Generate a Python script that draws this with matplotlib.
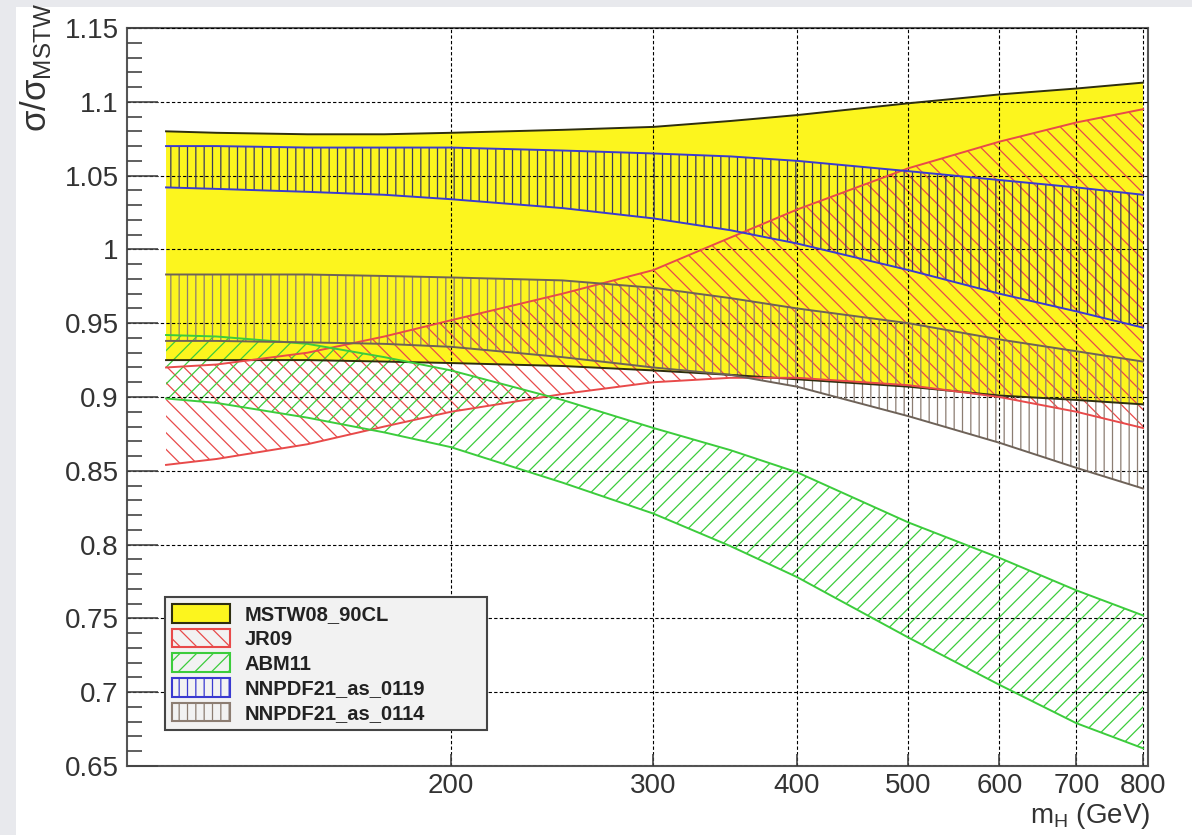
import matplotlib
matplotlib.use("Agg")
import matplotlib.pyplot as plt
from matplotlib.patches import Patch, Rectangle
from matplotlib.ticker import FixedLocator, MultipleLocator, FuncFormatter, NullLocator

plt.rcParams['font.family'] = ['Liberation Sans', 'DejaVu Sans']
plt.rcParams['mathtext.fontset'] = 'custom'
plt.rcParams['mathtext.rm'] = 'Liberation Sans'
plt.rcParams['mathtext.it'] = 'Liberation Sans:italic'
plt.rcParams['hatch.linewidth'] = 0.9

# Higgs mass points (GeV)
mh = [113, 125, 150, 175, 200, 250, 300, 350, 400, 500, 600, 700, 800]

# band edges, ratio to MSTW central value
mstw_up = [1.080, 1.079, 1.078, 1.078, 1.079, 1.081, 1.083, 1.087, 1.091, 1.099, 1.105, 1.109, 1.113]
mstw_lo = [0.925, 0.925, 0.925, 0.924, 0.923, 0.921, 0.918, 0.915, 0.912, 0.907, 0.901, 0.898, 0.895]

jr_up = [0.920, 0.922, 0.930, 0.941, 0.952, 0.970, 0.986, 1.008, 1.027, 1.055, 1.073, 1.086, 1.095]
jr_lo = [0.854, 0.858, 0.868, 0.880, 0.890, 0.902, 0.910, 0.913, 0.913, 0.908, 0.900, 0.890, 0.879]

abm_up = [0.942, 0.941, 0.936, 0.927, 0.918, 0.898, 0.879, 0.864, 0.849, 0.815, 0.791, 0.769, 0.752]
abm_lo = [0.899, 0.896, 0.886, 0.876, 0.866, 0.842, 0.821, 0.799, 0.778, 0.737, 0.705, 0.679, 0.662]

nn119_up = [1.070, 1.070, 1.069, 1.069, 1.069, 1.067, 1.065, 1.063, 1.060, 1.053, 1.047, 1.042, 1.037]
nn119_lo = [1.042, 1.041, 1.039, 1.037, 1.034, 1.028, 1.021, 1.013, 1.004, 0.986, 0.970, 0.958, 0.947]

nn114_up = [0.983, 0.983, 0.983, 0.982, 0.981, 0.979, 0.974, 0.967, 0.960, 0.950, 0.939, 0.931, 0.924]
nn114_lo = [0.938, 0.938, 0.937, 0.936, 0.934, 0.927, 0.920, 0.915, 0.907, 0.887, 0.869, 0.852, 0.838]

labels = ['MSTW08_90CL', 'JR09', 'ABM11', 'NNPDF21_as_0119', 'NNPDF21_as_0114']
xticks = [200, 300, 400, 500, 600, 700, 800]

yellow = '#fcf51e'
red = '#e84a4a'
green = '#3ccc3c'
blue = '#3a3ad0'
blue_hatch = '#3a3a5c'
brown = '#8c7d72'

fig = plt.figure(figsize=(11.92, 8.35), dpi=100, facecolor='#e8e9ed')
fig.patches.append(Rectangle((16 / 1192, 0), 1, 1 - 7 / 835, transform=fig.transFigure,
                             facecolor='white', edgecolor='none', zorder=-10))
ax = fig.add_axes([127 / 1192, 1 - 766 / 835, (1148 - 127) / 1192, (766 - 28) / 835])
ax.set_xscale('log')

# MSTW solid band
ax.fill_between(mh, mstw_lo, mstw_up, facecolor=yellow, edgecolor='none', zorder=1)
# hatched bands
ax.fill_between(mh, jr_lo, jr_up, facecolor='none', edgecolor=red, hatch='\\\\', linewidth=0, zorder=2)
ax.fill_between(mh, abm_lo, abm_up, facecolor='none', edgecolor=green, hatch='//', linewidth=0, zorder=2)
ax.fill_between(mh, nn119_lo, nn119_up, facecolor='none', edgecolor=blue_hatch, hatch='||', linewidth=0, zorder=3)
ax.fill_between(mh, nn114_lo, nn114_up, facecolor='none', edgecolor=brown, hatch='||', linewidth=0, zorder=3)

# band edges
for up, lo, c in [(mstw_up, mstw_lo, '#2e2e10'), (jr_up, jr_lo, red), (abm_up, abm_lo, green),
                  (nn119_up, nn119_lo, blue), (nn114_up, nn114_lo, '#6e6258')]:
    ax.plot(mh, up, color=c, lw=1.4, zorder=4)
    ax.plot(mh, lo, color=c, lw=1.4, zorder=4)

ax.set_xlim(104.5, 808)
ax.set_ylim(0.65, 1.15)

ax.xaxis.set_major_locator(FixedLocator(xticks))
ax.xaxis.set_minor_locator(NullLocator())
ax.xaxis.set_major_formatter(FuncFormatter(lambda v, p: '%d' % v))
ax.yaxis.set_major_locator(MultipleLocator(0.05))
ax.yaxis.set_minor_locator(MultipleLocator(0.01))
ax.yaxis.set_major_formatter(FuncFormatter(lambda v, p: '%g' % round(v, 2)))

ax.tick_params(axis='y', which='major', direction='in', length=22, width=1.2, labelsize=20,
               labelcolor='#333333', color='#444444', pad=6)
ax.tick_params(axis='y', which='minor', direction='in', length=11, width=1.2, color='#444444')
ax.tick_params(axis='x', which='major', direction='in', length=9, width=1.2, labelsize=20,
               labelcolor='#333333', color='#444444', pad=5)

ax.grid(True, which='major', color='black', linestyle=(0, (3, 2)), linewidth=0.8, zorder=5)
ax.set_axisbelow(False)
for s in ax.spines.values():
    s.set_color('#555555')
    s.set_linewidth(1.5)

fig.text(36 / 1192, 1 - 3 / 835, r'$\mathrm{σ/σ_{MSTW}}$', rotation=90, ha='center', va='top',
         fontsize=25, color='#333333')
fig.text(1150 / 1192, 1 - 816 / 835, r'$\mathrm{m_{H}}$ (GeV)', ha='right', va='center',
         fontsize=20, color='#333333')

handles = [
    Patch(facecolor=yellow, edgecolor='#2e2e10', linewidth=1.5),
    Patch(facecolor='none', edgecolor=red, hatch='\\\\', linewidth=1.5),
    Patch(facecolor='none', edgecolor=green, hatch='//', linewidth=1.5),
    Patch(facecolor='none', edgecolor=blue, hatch='||', linewidth=1.5),
    Patch(facecolor='none', edgecolor=brown, hatch='||', linewidth=1.5),
]
leg = ax.legend(handles, labels, loc='lower left', bbox_to_anchor=(0.037, 0.049, 0.316, 0.214),
                mode='expand', fancybox=False, framealpha=1, facecolor='#f2f2f2',
                edgecolor='#444444', prop={'weight': 'bold', 'size': 14.5},
                handlelength=2.9, handleheight=1.05, handletextpad=0.7, labelspacing=0.22,
                borderpad=0.35, borderaxespad=0)
leg.get_frame().set_linewidth(1.5)
leg.set_zorder(10)
for t in leg.get_texts():
    t.set_color('#222222')

fig.savefig('out.png', dpi=100, facecolor=fig.get_facecolor())
